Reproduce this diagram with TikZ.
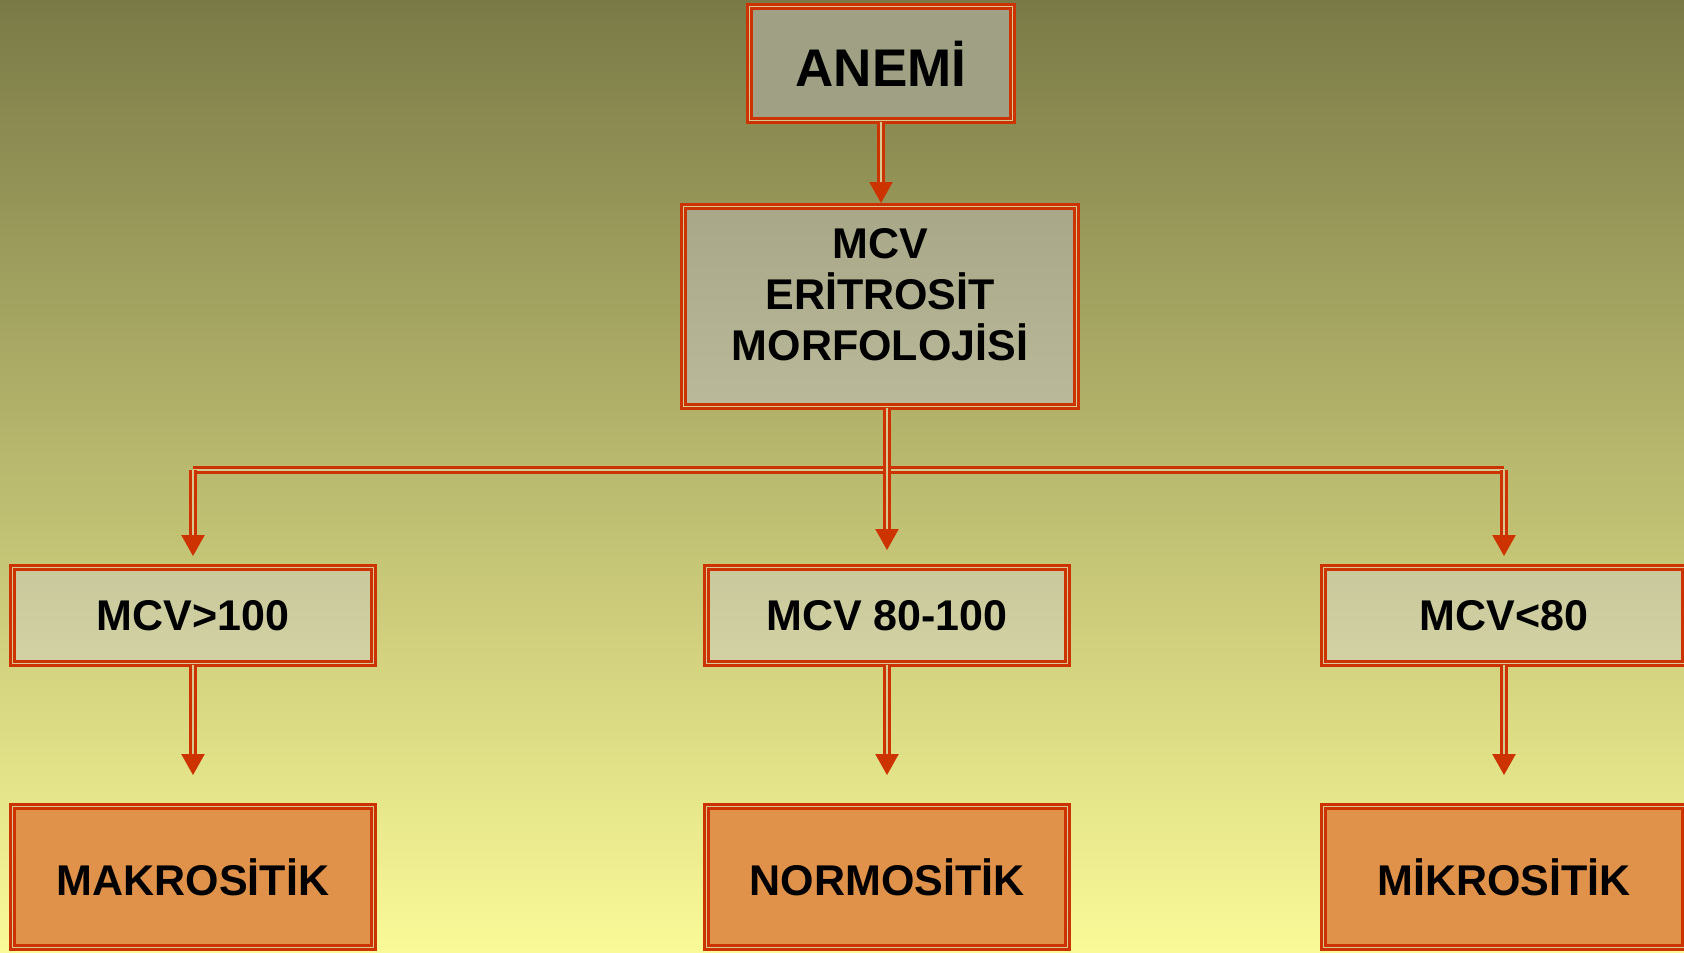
\documentclass[tikz,border=0pt]{standalone}
\usepackage{fontspec}
\setmainfont{Liberation Sans}
\usetikzlibrary{arrows.meta,positioning}
\definecolor{bgtop}  {HTML}{7A7A47}
\definecolor{bgbot}  {HTML}{FAFA98}
\definecolor{rust}   {HTML}{CC3300}
\definecolor{seam}   {HTML}{D6C890}
\definecolor{sage}   {HTML}{A0A084}
\definecolor{stonet} {HTML}{A8A888}
\definecolor{stoneb} {HTML}{BABA9A}
\definecolor{creamt} {HTML}{C8C89C}
\definecolor{creamb} {HTML}{D2D2A4}
\definecolor{amber}  {HTML}{E0924A}

\begin{document}
\begin{tikzpicture}[x=0.5pt, y=-0.5pt,
    box/.style={draw=rust, double=seam, double distance=0.9pt, line width=1.45pt,
      inner sep=0pt, align=center, font=\bfseries\fontsize{21.5}{25.5}\selectfont},
    row/.style={box, top color=creamt, bottom color=creamb,
      minimum width=180.5pt, minimum height=48pt},
    leaf/.style={box, fill=amber, minimum width=180.5pt, minimum height=70.5pt},
    arr/.style={draw=rust, double=seam, double distance=1.35pt, line width=1.1pt,
      -{Triangle[width=11.5pt,length=10.5pt]}}]
  \useasboundingbox (0,0) rectangle (1684,952);
  \clip (0,0) rectangle (1684,952);
  \shade[top color=bgtop, bottom color=bgbot] (0,0) rectangle (1684,952);

  \node[box, fill=sage, minimum width=131.5pt, minimum height=57pt,
    font=\bfseries\fontsize{26.5}{30}\selectfont] (anemi) at (881,63.5) {ANEMİ};
  \node[box, top color=stonet, bottom color=stoneb, text depth=12pt,
    minimum width=196.5pt, minimum height=100pt] (mcv) at (880,306.5)
    {MCV\\ERİTROSİT\\MORFOLOJİSİ};

  \node[row] (mak) at (193,615.5) {MCV>100};
  \node[row] (mid) at (887,615.5) {MCV 80-100};
  \node[row] (mik) at (1504,615.5) {MCV<80};

  \node[leaf] (makro) at (193,877) {MAKROSİTİK};
  \node[leaf] (normo) at (887,877) {NORMOSİTİK};
  \node[leaf] (mikro) at (1504,877) {MİKROSİTİK};

  \coordinate (bus) at (0,470);
  \draw[arr, shorten >=1pt] (anemi.south) -- (anemi.south |- mcv.north);
  \draw[arr, -] (mak.north |- bus) -- (mik.north |- bus);
  \draw[arr, shorten >=8pt] (mid.north |- mcv.south) -- (mid.north);
  \draw[arr, shorten >=5pt] (mak.north |- bus) -- (mak.north);
  \draw[arr, shorten >=5pt] (mik.north |- bus) -- (mik.north);
  \foreach \a/\b in {mak/makro, mid/normo, mik/mikro}
    \draw[arr, shorten >=15pt] (\a.south) -- (\b.north);
\end{tikzpicture}
\end{document}
